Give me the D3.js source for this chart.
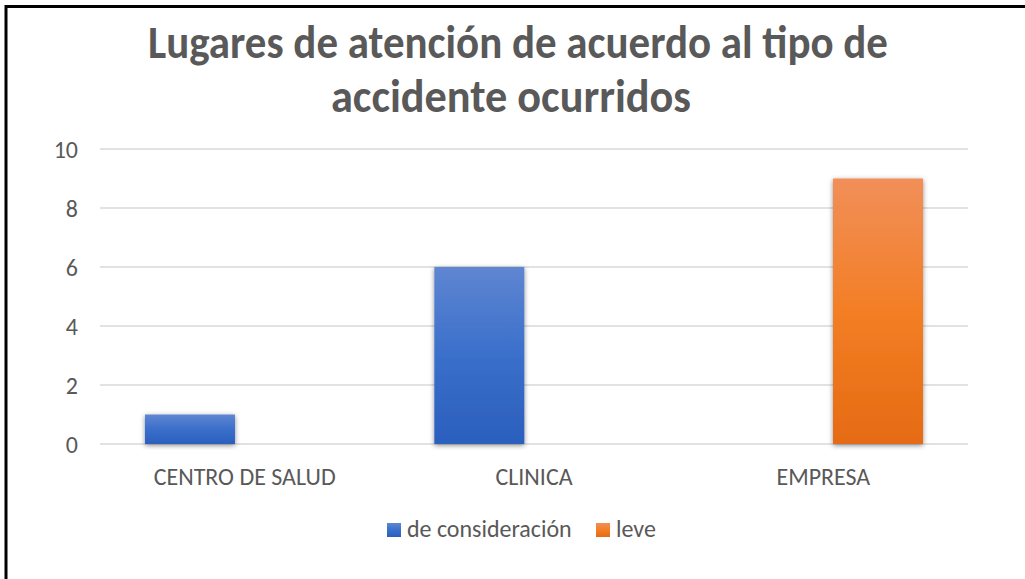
<!DOCTYPE html>
<html><head><meta charset="utf-8">
<script src="https://cdn.jsdelivr.net/npm/d3@7"></script>
<style>html,body{margin:0;padding:0;background:#fff;}svg{display:block;}</style>
</head><body>
<svg id="c" width="1025" height="579"></svg>
<script>
const categories = ["CENTRO DE SALUD", "CLINICA", "EMPRESA"];
const seriesNames = ["de consideración", "leve"];
const deConsideracion = [1, 6, 0];
const leve = [0, 0, 9];
const yTicks = [0, 2, 4, 6, 8, 10];
const titleLines = ["Lugares de atención de acuerdo al tipo de", "accidente ocurridos"];

const FONT = "Carlito, 'Liberation Sans Narrow', Lato, 'Open Sans', sans-serif";
const svg = d3.select("#c");
const W = 1025, H = 579;
const plot = {left: 100, right: 968, top: 149, bottom: 444};

// border (top and left visible)
svg.append("line").attr("x1", 5).attr("x2", W).attr("y1", 6.5).attr("y2", 6.5).attr("stroke", "#000").attr("stroke-width", 3);
svg.append("line").attr("x1", 6).attr("x2", 6).attr("y1", 5).attr("y2", H).attr("stroke", "#000").attr("stroke-width", 3);

// defs: gradients + shadow
const defs = svg.append("defs");
const g1 = defs.append("linearGradient").attr("id", "gBlue").attr("x1", 0).attr("x2", 0).attr("y1", 0).attr("y2", 1);
g1.append("stop").attr("offset", "0%").attr("stop-color", "#5f86d1");
g1.append("stop").attr("offset", "50%").attr("stop-color", "#3a6fcb");
g1.append("stop").attr("offset", "100%").attr("stop-color", "#2b5fbd");
const g2 = defs.append("linearGradient").attr("id", "gOrange").attr("x1", 0).attr("x2", 0).attr("y1", 0).attr("y2", 1);
g2.append("stop").attr("offset", "0%").attr("stop-color", "#f18f59");
g2.append("stop").attr("offset", "50%").attr("stop-color", "#f37e25");
g2.append("stop").attr("offset", "100%").attr("stop-color", "#e56b12");
const f = defs.append("filter").attr("id", "shadow").attr("x", "-20%").attr("y", "-20%").attr("width", "140%").attr("height", "140%");
f.append("feDropShadow").attr("dx", 0).attr("dy", 1.5).attr("stdDeviation", 2.5).attr("flood-color", "#000").attr("flood-opacity", 0.45);

// title (condensed to mimic the narrow original face)
const titleYs = [58, 112];
const titleXs = [518, 511];
const titleWidths = [740, 360];
const tmp = svg.append("text").attr("font-family", FONT).attr("font-weight", "bold").attr("font-size", 36).text(titleLines[0]);
const titleFs = 36 * 740 / tmp.node().getComputedTextLength() * 1.1;
tmp.remove();
titleLines.forEach((t, i) => {
  svg.append("text").attr("x", titleXs[i]).attr("y", titleYs[i]).attr("text-anchor", "middle")
    .attr("font-family", FONT).attr("font-weight", "bold").attr("font-size", titleFs).attr("fill", "#595959")
    .attr("textLength", titleWidths[i]).attr("lengthAdjust", "spacingAndGlyphs").text(t);
});

// scales
const y = d3.scaleLinear().domain([0, 10]).range([plot.bottom, plot.top]);
const x0 = d3.scaleBand().domain(categories).range([plot.left, plot.right]).padding(0);
const bw0 = x0.bandwidth();
const x1 = d3.scaleBand().domain(seriesNames).range([bw0 * 0.1555, bw0 * 0.8445]).paddingInner(0.177);

// gridlines
svg.append("g").selectAll("line").data(yTicks).join("line")
  .attr("x1", plot.left).attr("x2", plot.right)
  .attr("y1", d => y(d)).attr("y2", d => y(d))
  .attr("stroke", "#d9d9d9").attr("stroke-width", 1.5);

// y labels
const yAxis = d3.axisLeft(y).tickValues(yTicks).tickSize(0).tickPadding(0);
const ya = svg.append("g").attr("transform", `translate(78,0)`).call(yAxis);
ya.select(".domain").remove();
ya.selectAll("text").attr("font-family", FONT).attr("font-size", 19).attr("fill", "#595959").attr("dy", "0.35em");

// bars
const data = categories.map((c, i) => ({cat: c, vals: [
  {s: seriesNames[0], v: deConsideracion[i], fill: "url(#gBlue)"},
  {s: seriesNames[1], v: leve[i], fill: "url(#gOrange)"}]}));
svg.append("g").selectAll("g").data(data).join("g")
  .attr("transform", d => `translate(${x0(d.cat)},0)`)
  .selectAll("rect").data(d => d.vals.filter(v => v.v > 0)).join("rect")
  .attr("x", d => x1(d.s)).attr("width", x1.bandwidth())
  .attr("y", d => y(d.v)).attr("height", d => y(0) - y(d.v))
  .attr("fill", d => d.fill).attr("filter", "url(#shadow)");

// x labels
const xAxis = d3.axisBottom(x0).tickSize(0).tickPadding(0);
const xa = svg.append("g").attr("transform", `translate(0,${plot.bottom})`).call(xAxis);
xa.select(".domain").remove();
xa.selectAll("text").attr("font-family", FONT).attr("font-size", 19).attr("fill", "#595959").attr("dy", null).attr("y", 41);
const wFirst = xa.select("text").node().getComputedTextLength();
const bodyFs = 19 * 182 / wFirst;
xa.selectAll("text").attr("font-size", bodyFs);
ya.selectAll("text").attr("font-size", bodyFs);

// legend
const legendColors = ["url(#gBlue)", "url(#gOrange)"];
const legendX = [387, 596];
const lg = svg.append("g");
seriesNames.forEach((n, i) => {
  lg.append("rect").attr("x", legendX[i]).attr("y", 523).attr("width", 14).attr("height", 14).attr("fill", legendColors[i]);
  lg.append("text").attr("x", legendX[i] + 20).attr("y", 537).attr("font-family", FONT)
    .attr("font-size", bodyFs).attr("fill", "#595959").text(n);
});
</script>
</body></html>
